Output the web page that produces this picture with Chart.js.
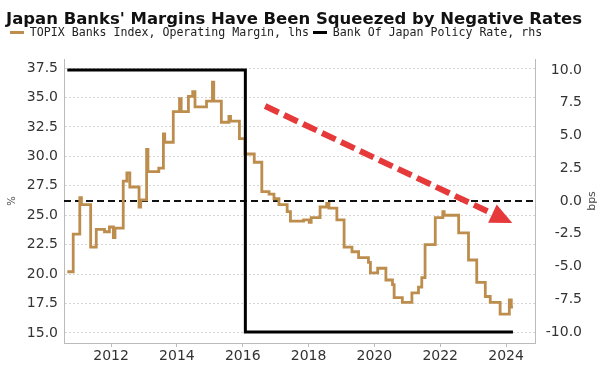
<!DOCTYPE html>
<html>
<head>
<meta charset="utf-8">
<script src="https://cdn.jsdelivr.net/npm/chart.js@4.4.1/dist/chart.umd.min.js"></script>
<style>
  html, body { margin: 0; padding: 0; background: #fff; }
</style>
</head>
<body>
<canvas id="chart" width="598" height="367"></canvas>
<script>
// TOPIX Banks operating margin (%), step series: each date starts a new level
const marginDates = [
  2010.67, 2010.85, 2011.05, 2011.10, 2011.38, 2011.55, 2011.80, 2011.95, 2012.07, 2012.12,
  2012.37, 2012.48, 2012.57, 2012.85, 2012.90, 2013.08, 2013.12, 2013.45, 2013.59, 2013.63,
  2013.89, 2014.08, 2014.13, 2014.35, 2014.48, 2014.55, 2014.90, 2015.08, 2015.12, 2015.35,
  2015.58, 2015.63, 2015.90, 2016.07, 2016.35, 2016.58, 2016.80, 2016.95, 2017.10, 2017.35,
  2017.45, 2017.85, 2018.02, 2018.08, 2018.35, 2018.55, 2018.62, 2018.86, 2019.08, 2019.32,
  2019.52, 2019.82, 2019.88, 2020.10, 2020.35, 2020.55, 2020.60, 2020.85, 2021.14, 2021.34,
  2021.44, 2021.54, 2021.85, 2022.08, 2022.12, 2022.56, 2022.86, 2023.11, 2023.37, 2023.52,
  2023.82, 2024.10, 2024.16, 2024.21
];
const marginValues = [
  20.2, 23.4, 26.5, 25.9, 22.3, 23.8, 23.6, 24.0, 23.1, 23.9,
  27.9, 28.6, 27.4, 25.7, 26.3, 30.6, 28.7, 29.0, 31.9, 31.2,
  33.8, 34.9, 33.8, 35.1, 35.5, 34.2, 34.7, 36.3, 34.7, 32.9,
  33.4, 33.0, 31.5, 30.2, 29.5, 27.0, 26.8, 26.4, 25.9, 25.3,
  24.5, 24.6, 24.4, 24.8, 25.7, 26.0, 25.6, 24.6, 22.3, 21.9,
  21.4, 21.0, 20.1, 20.5, 19.5, 19.1, 18.0, 17.6, 18.4, 18.9,
  19.7, 22.5, 24.8, 25.3, 25.0, 23.5, 21.2, 19.3, 18.1, 17.6,
  16.6, 17.8, 17.2, 17.2
];

// Bank of Japan policy rate (bps)
const rateDates = [2010.67, 2016.08, 2024.21];
const rateValues = [10, -10, -10];

// axis ticks
const yearTicks = [2012, 2014, 2016, 2018, 2020, 2022, 2024];
const leftTicks = [15, 17.5, 20, 22.5, 25, 27.5, 30, 32.5, 35, 37.5];
const rightTicks = [-10, -7.5, -5, -2.5, 0, 2.5, 5, 7.5, 10];

// red trend arrow, in (year, rhs) coordinates
const arrowFrom = [2016.68, 7.25];
const arrowTo = [2024.19, -1.68];

const GOLD = '#bd8d4e';
const tickFont = { family: 'DejaVu Sans', size: 14 };

const toPoints = (xs, ys) => xs.map((x, i) => ({ x: x, y: ys[i] }));

// dashed red arrow on top of the lines, plus the rhs unit label
const extrasPlugin = {
  id: 'extras',
  afterDatasetsDraw(chart) {
    const ctx = chart.ctx;
    const sx = chart.scales.x, sy = chart.scales.y1;
    const x1 = sx.getPixelForValue(arrowFrom[0]), y1 = sy.getPixelForValue(arrowFrom[1]);
    const x2 = sx.getPixelForValue(arrowTo[0]), y2 = sy.getPixelForValue(arrowTo[1]);
    const ang = Math.atan2(y2 - y1, x2 - x1);
    const headLen = 22, headW = 10;
    const bx = x2 - headLen * Math.cos(ang), by = y2 - headLen * Math.sin(ang);
    ctx.save();
    ctx.strokeStyle = '#e6393a';
    ctx.fillStyle = '#e6393a';
    ctx.lineWidth = 6;
    ctx.setLineDash([15, 6]);
    ctx.beginPath();
    ctx.moveTo(x1, y1);
    ctx.lineTo(bx, by);
    ctx.stroke();
    ctx.setLineDash([]);
    ctx.beginPath();
    ctx.moveTo(x2, y2);
    ctx.lineTo(bx + headW * Math.sin(ang), by - headW * Math.cos(ang));
    ctx.lineTo(bx - headW * Math.sin(ang), by + headW * Math.cos(ang));
    ctx.closePath();
    ctx.fill();
    ctx.restore();
  },
  afterDraw(chart) {
    const ctx = chart.ctx;
    const a = chart.chartArea;
    ctx.save();
    ctx.translate(592, (a.top + a.bottom) / 2);
    ctx.rotate(-Math.PI / 2);
    ctx.fillStyle = '#444';
    ctx.font = '11px "DejaVu Sans"';
    ctx.textAlign = 'center';
    ctx.textBaseline = 'middle';
    ctx.fillText('bps', 0, 0);
    ctx.restore();
  }
};

new Chart(document.getElementById('chart'), {
  type: 'line',
  data: {
    datasets: [
      {
        label: 'TOPIX Banks Index, Operating Margin, lhs',
        data: toPoints(marginDates, marginValues),
        yAxisID: 'y',
        borderColor: GOLD,
        backgroundColor: GOLD,
        borderWidth: 2.8,
        stepped: 'before',
        pointRadius: 0,
        order: 2
      },
      {
        label: 'Bank Of Japan Policy Rate, rhs',
        data: toPoints(rateDates, rateValues),
        yAxisID: 'y1',
        borderColor: '#000',
        backgroundColor: '#000',
        borderWidth: 3,
        stepped: 'before',
        pointRadius: 0,
        order: 1
      },
      {
        label: 'zero',
        data: [{ x: 2010.57, y: 0 }, { x: 2024.88, y: 0 }],
        yAxisID: 'y1',
        borderColor: '#111',
        borderWidth: 2,
        borderDash: [7, 4],
        pointRadius: 0,
        order: 3
      }
    ]
  },
  options: {
    responsive: false,
    animation: false,
    layout: { padding: { left: 6, right: 16, top: 0, bottom: 0 } },
    plugins: {
      title: {
        display: true,
        align: 'start',
        text: "Japan Banks' Margins Have Been Squeezed by Negative Rates",
        color: '#111',
        font: { family: 'DejaVu Sans', size: 16.5, weight: 'bold', lineHeight: 1 },
        padding: { top: 11.75, bottom: -5.55 }
      },
      // empty spacer between the legend and the plot
      subtitle: {
        display: true,
        text: '',
        weight: 500,
        font: { size: 1, lineHeight: 1 },
        padding: { top: 9.7, bottom: 0 }
      },
      legend: {
        display: true,
        align: 'start',
        labels: {
          filter: item => item.text !== 'zero',
          sort: (a, b) => a.datasetIndex - b.datasetIndex,
          usePointStyle: true,
          pointStyle: 'line',
          pointStyleWidth: 14,
          padding: 4,
          color: '#222',
          font: { family: 'DejaVu Sans Mono', size: 11.6 }
        }
      },
      tooltip: { enabled: false }
    },
    scales: {
      x: {
        type: 'linear',
        min: 2010.57,
        max: 2024.88,
        afterBuildTicks: s => { s.ticks = yearTicks.map(v => ({ value: v })); },
        afterFit: s => { s.height = 24; },
        grid: { drawOnChartArea: false, drawTicks: true, tickLength: 4, color: '#bbb' },
        border: { color: '#bbb' },
        ticks: { color: '#333', font: tickFont, padding: 1, maxRotation: 0, callback: v => String(v) }
      },
      y: {
        position: 'left',
        min: 14.15,
        max: 38.27,
        afterBuildTicks: s => { s.ticks = leftTicks.map(v => ({ value: v })); },
        afterFit: s => { s.width = 58; },
        title: { display: true, text: '%', color: '#444', font: { family: 'DejaVu Sans', size: 10 }, padding: 0 },
        grid: { drawTicks: false, color: '#d4d4d4' },
        border: { color: '#bbb', dash: [2, 2] },
        ticks: { color: '#333', font: tickFont, padding: 6, callback: v => v.toFixed(1) }
      },
      y1: {
        position: 'right',
        min: -10.84,
        max: 10.84,
        afterBuildTicks: s => { s.ticks = rightTicks.map(v => ({ value: v })); },
        afterFit: s => { s.width = 47; },
        grid: { drawOnChartArea: false, drawTicks: false },
        border: { color: '#bbb' },
        ticks: { color: '#333', font: tickFont, padding: 10, crossAlign: 'far', callback: v => v.toFixed(1) }
      }
    }
  },
  plugins: [extrasPlugin]
});
</script>
</body>
</html>
